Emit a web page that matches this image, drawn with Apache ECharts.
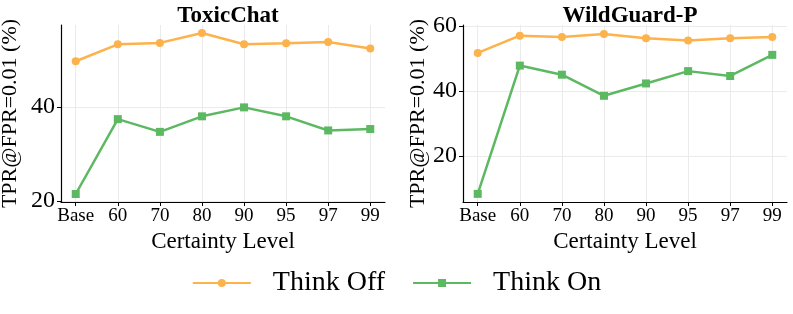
<!DOCTYPE html>
<html><head><meta charset="utf-8">
<script src="https://cdn.jsdelivr.net/npm/echarts@6/dist/echarts.min.js"></script>
<style>html,body{margin:0;padding:0;background:#fff}#c{width:793px;height:314px}</style>
</head><body><div id="c"></div>
<script>
const categories = ['Base','60','70','80','90','95','97','99'];
const titles = ['ToxicChat','WildGuard-P'];
const toxicOff = [49.7,53.3,53.6,55.7,53.3,53.5,53.8,52.4];
const toxicOn  = [21.5,37.4,34.7,38.0,39.9,38.0,35.0,35.3];
const wildOff  = [51.7,57.0,56.6,57.5,56.2,55.5,56.2,56.6];
const wildOn   = [8.3,47.8,45.0,38.5,42.3,46.1,44.6,51.1];
const toxicTicks = [20,40];
const wildTicks = [20,40,60];
const seriesNames = ['Think Off','Think On'];

const FONT = "'Liberation Serif','Times New Roman',serif";
const ORANGE = '#FDB24B', GREEN = '#5DB862';
const idx = categories.map((_, i) => i);
const pairs = arr => arr.map((v, i) => [i, v]);

function xAxis(gi){
  return {
    type:'value', gridIndex:gi, min:-0.35, max:7.35,
    name:'Certainty Level', nameLocation:'middle', nameGap:26,
    nameTextStyle:{fontFamily:FONT, fontSize:23, color:'#000'},
    axisLine:{show:true, onZero:false, lineStyle:{color:'#000', width:1.2}},
    axisTick:{show:true, customValues:idx, length:4, lineStyle:{color:'#000'}},
    axisLabel:{customValues:idx, formatter:v => categories[Math.round(v)], fontFamily:FONT, fontSize:19, color:'#000', margin:5},
    splitLine:{show:true, lineStyle:{color:'#ebebeb', width:1}}
  };
}
function yAxis(gi, min, max, ticks, gap){
  return {
    type:'value', gridIndex:gi, min:min, max:max,
    name:'TPR@FPR=0.01 (%)', nameLocation:'middle', nameGap:gap,
    nameTextStyle:{fontFamily:FONT, fontSize:22, color:'#000'},
    axisLine:{show:true, onZero:false, lineStyle:{color:'#000', width:1.2}},
    axisTick:{show:true, customValues:ticks, length:4, lineStyle:{color:'#000'}},
    axisLabel:{customValues:ticks, fontFamily:FONT, fontSize:24, color:'#000', margin:6},
    splitLine:{show:true, lineStyle:{color:'#ebebeb', width:1}}
  };
}
function line(name, data, gi, color, symbol){
  return {
    name:name, type:'line', xAxisIndex:gi, yAxisIndex:gi, data:pairs(data),
    symbol:symbol, symbolSize:8, showSymbol:true,
    itemStyle:{color:color}, lineStyle:{color:color, width:2.5}, z:3
  };
}
const chart = echarts.init(document.getElementById('c'), null, {renderer:'canvas'});
chart.setOption({
  animation:false,
  backgroundColor:'#fff',
  title:[
    {text:titles[0], left:223, top:0, textAlign:'center', textStyle:{fontFamily:FONT, fontSize:23, fontWeight:'bold', color:'#000'}},
    {text:titles[1], left:625, top:0, textAlign:'center', textStyle:{fontFamily:FONT, fontSize:23, fontWeight:'bold', color:'#000'}}
  ],
  grid:[
    {left:61, top:25, width:324, height:177, containLabel:false, outerBoundsMode:'none'},
    {left:463, top:25, width:324, height:177, containLabel:false, outerBoundsMode:'none'}
  ],
  xAxis:[xAxis(0), xAxis(1)],
  yAxis:[yAxis(0, 19.8, 57.4, toxicTicks, 40), yAxis(1, 5.8, 60.3, wildTicks, 32)],
  legend:{
    data:seriesNames, bottom:12, left:'center', itemWidth:58, itemHeight:10, itemGap:27,
    textStyle:{fontFamily:FONT, fontSize:28, color:'#000', padding:[0,0,0,17]}
  },
  series:[
    line(seriesNames[0], toxicOff, 0, ORANGE, 'circle'),
    line(seriesNames[1], toxicOn, 0, GREEN, 'rect'),
    line(seriesNames[0], wildOff, 1, ORANGE, 'circle'),
    line(seriesNames[1], wildOn, 1, GREEN, 'rect')
  ]
});
</script></body></html>
